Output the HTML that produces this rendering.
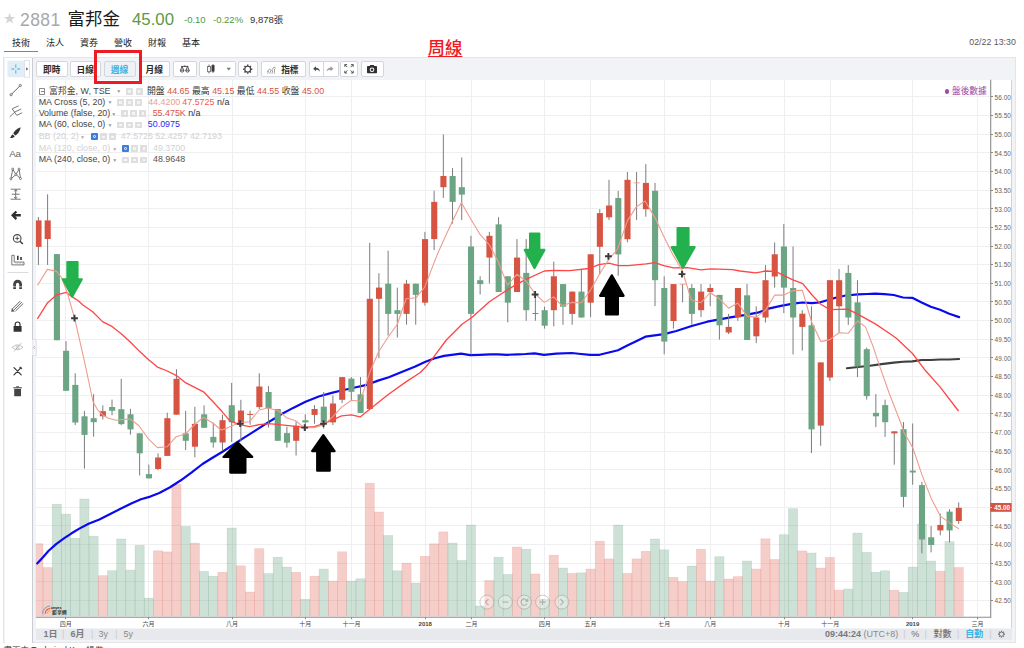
<!DOCTYPE html>
<html lang="zh-Hant"><head><meta charset="utf-8"><title>2881 富邦金</title>
<style>
html,body{margin:0;padding:0}
body{width:1024px;height:648px;position:relative;overflow:hidden;background:#fff;font-family:"Liberation Sans","Noto Sans CJK TC",sans-serif;color:#222}
.abs{position:absolute;white-space:nowrap}
.hd{position:absolute;top:0;left:0;height:36px;white-space:nowrap}
.tab{position:absolute;top:37px;font-size:9px;color:#222;line-height:12px}
.panel{position:absolute;left:3.2px;top:56.8px;width:1012.6px;height:586.4px;box-sizing:border-box;background:#f2f3f6;border:1px solid #e3e5e9}
.tbar{position:absolute;left:35.85px;top:79.7px;width:976.6px;height:548.7px;background:#fff;border-right:1px solid #cfd2d7;box-sizing:border-box}
.btn{position:absolute;top:61px;height:15.5px;border:1px solid #d3d6db;border-radius:2px;background:#fff;box-sizing:border-box;font-size:8.7px;line-height:17.2px;text-align:center;color:#2a2a2a;font-weight:bold}
.side{position:absolute;left:4.8px;top:57.8px;width:27.2px;height:585px;background:#fff;border-right:0.9px solid #c9ccd1}
.lg{position:absolute;left:0;height:11px;font-size:8.9px;line-height:11px;color:#333;white-space:nowrap}
.lg .nm{position:absolute;left:38.7px;top:0}
.lg .v{position:absolute;top:0}
.lg .ic{position:absolute;top:2.3px;width:7.1px;height:6.8px;background:#dfdfdf;box-sizing:border-box;border-radius:0.5px}
.lg .ic::after{content:"";position:absolute;left:2.2px;top:2.1px;width:2.7px;height:2.6px;border-radius:40%;border:0.7px solid #fafafa;box-sizing:border-box}
.lg .ib{position:absolute;top:2.2px;width:7.2px;height:7px;background:#3d7edb;border-radius:1px}
.lg .ib i{position:absolute;left:2.1px;top:2px;width:3px;height:3px;border-radius:50%;border:0.7px solid #fff;box-sizing:border-box}
.lg .dd{position:absolute;top:0.5px;color:#999;font-size:5px}
.bbar{position:absolute;left:35.85px;top:628.5px;width:976.6px;height:11.8px;background:#e7e9ed}
.bt{position:absolute;top:628px;font-size:9px;line-height:12px;color:#777;white-space:nowrap}
.sep{color:#c8cbd0;margin:0 3.5px;font-weight:normal}
</style></head><body>
<!-- header -->
<div class="abs" style="left:3.4px;top:12.2px;font-size:12px;line-height:14px;color:#d4d4d4">★</div>
<div class="abs" style="left:20px;top:7px;font-size:17.5px;line-height:26px;color:#a8a8a8;letter-spacing:0.45px">2881</div>
<div class="abs" style="left:67.6px;top:6.4px;font-size:17.4px;line-height:26px;color:#1a1a1a;font-weight:400">富邦金</div>
<div class="abs" style="left:132px;top:7px;font-size:16.8px;line-height:26px;color:#5b9a45">45.00</div>
<div class="abs" style="left:184px;top:14px;font-size:9.5px;line-height:12px;color:#4f9a3c">-0.10</div>
<div class="abs" style="left:213px;top:14px;font-size:9.5px;line-height:12px;color:#4f9a3c">-0.22%</div>
<div class="abs" style="left:250px;top:14px;font-size:9.5px;line-height:12px;color:#333">9,878張</div>
<!-- tabs -->
<div class="tab" style="left:12px">技術</div>
<div class="tab" style="left:46px">法人</div>
<div class="tab" style="left:80px">資券</div>
<div class="tab" style="left:114px">營收</div>
<div class="tab" style="left:148px">財報</div>
<div class="tab" style="left:182px">基本</div>
<div class="abs" style="left:4px;top:50.5px;width:34px;height:1px;background:#f0525f"></div>
<div class="abs" style="left:427.8px;top:37.6px;font-size:17.3px;line-height:20px;color:#ed1c24;font-weight:500;text-decoration:underline;text-decoration-thickness:1px;text-underline-offset:1.6px">周線</div>
<div class="abs" style="left:969.3px;top:36.4px;font-size:8.8px;line-height:12px;color:#5a5a5a">02/22 13:30</div>
<!-- panel -->
<div class="panel"></div>
<div class="tbar"></div>
<div class="side"></div>
<svg width="40" height="648" viewBox="0 0 40 648" style="position:absolute;left:0;top:0;pointer-events:none" font-family="Liberation Sans, sans-serif">
<rect x="7.4" y="60.6" width="17" height="16.6" fill="#e3edf6"/>
<rect x="24.6" y="60.6" width="5" height="16.6" fill="#fff" stroke="#d9dce1" stroke-width="0.8"/>
<path d="M26.2 67.3L28.2 68.9L26.2 70.5Z" fill="#555"/>
<path d="M11.3 69H14.5M17.1 69H20.3M15.8 64.5V67.7M15.8 70.3V73.5" stroke="#3bb3e4" stroke-width="1"/>
<path d="M11.399999999999999 94.39999999999999L20.0 85.8" stroke="#555" stroke-width="0.9"/><circle cx="11.1" cy="94.69999999999999" r="1.1" fill="#fff" stroke="#555" stroke-width="0.8"/><circle cx="20.299999999999997" cy="85.5" r="1.1" fill="#fff" stroke="#555" stroke-width="0.8"/>
<path d="M9.7 116.8L14.7 112.3M12.2 108.8L16.7 115.3M12.2 108.8L18.7 105.8M14.5 112.1L21.2 109.0M16.7 115.3L22.2 112.8" stroke="#555" stroke-width="0.8" fill="none"/>
<path d="M20.7 127.30000000000001C16.7 128.8 14.2 131.3 13.2 133.60000000000002L15.399999999999999 135.4C17.7 134.20000000000002 19.9 131.4 20.7 127.30000000000001Z" fill="#333"/><path d="M12.5 134.4C10.899999999999999 135.20000000000002 11.299999999999999 137.20000000000002 9.7 138.0C12.1 138.4 14.299999999999999 137.60000000000002 14.7 136.0Z" fill="#333"/>
<text x="9.2" y="157" font-size="9.8" fill="#666" letter-spacing="-0.3">Aa</text>
<path d="M10.899999999999999 178.9L12.7 169.1L15.899999999999999 174.5L19.099999999999998 169.1L20.5 178.5M10.899999999999999 178.9L15.899999999999999 174.5L20.5 178.5" stroke="#555" stroke-width="0.8" fill="none"/>
<circle cx="10.899999999999999" cy="178.9" r="1" fill="#fff" stroke="#555" stroke-width="0.7"/>
<circle cx="12.7" cy="169.1" r="1" fill="#fff" stroke="#555" stroke-width="0.7"/>
<circle cx="15.899999999999999" cy="174.5" r="1" fill="#fff" stroke="#555" stroke-width="0.7"/>
<circle cx="19.099999999999998" cy="169.1" r="1" fill="#fff" stroke="#555" stroke-width="0.7"/>
<circle cx="20.5" cy="178.5" r="1" fill="#fff" stroke="#555" stroke-width="0.7"/>
<path d="M10.7 189.2H20.7M10.7 199.2H20.7M11.7 194.2H19.7M15.7 190.0V198.39999999999998M14.1 191.39999999999998L15.7 189.79999999999998L17.3 191.39999999999998M14.1 197.0L15.7 198.6L17.3 197.0" stroke="#555" stroke-width="0.8" fill="none"/>
<path d="M11 215.3L15.6 210.70000000000002L17.2 212.3L15.4 214.10000000000002H20.8V216.5H15.4L17.2 218.3L15.6 219.9Z" fill="#2f2f2f"/>
<circle cx="17.2" cy="238.4" r="3.8" fill="none" stroke="#444" stroke-width="1.1"/><path d="M20.0 241.20000000000002L22.799999999999997 244.0" stroke="#444" stroke-width="1.6"/><path d="M15.2 238.4H19.2M17.2 236.4V240.4" stroke="#444" stroke-width="0.9"/>
<path d="M11.8 255.3V264.90000000000003H24.0V262.1H14.200000000000001V255.3Z" fill="none" stroke="#555" stroke-width="0.8"/><path d="M15.600000000000001 263.5H22.6" stroke="#999" stroke-width="0.6" stroke-dasharray="0.8 0.8"/><path d="M17.8 255.70000000000002V259.90000000000003M21.0 257.1V259.90000000000003" stroke="#333" stroke-width="1.6"/>
<path d="M7.5 272.5H28.5" stroke="#d9dce1" stroke-width="1"/>
<path d="M13.200000000000001 289.0V284.20000000000005A4.4 4.4 0 0 1 22.0 284.20000000000005V289.0H19.200000000000003V284.40000000000003A1.6 1.6 0 0 0 16.0 284.40000000000003V289.0Z" fill="#444"/><path d="M13.000000000000002 286.8H16.200000000000003M19.0 286.8H22.200000000000003" stroke="#fff" stroke-width="0.7"/>
<path d="M12.400000000000002 308.90000000000003L20.400000000000002 300.90000000000003M13.8 310.1L21.8 302.1M15.400000000000002 311.1L23.200000000000003 303.5" stroke="#555" stroke-width="0.9"/><path d="M11.8 308.3L11.200000000000001 311.7L14.8 311.5Z" fill="#555"/>
<rect x="13.600000000000001" y="326.0" width="8" height="5.8" rx="0.6" fill="#333"/><path d="M15.200000000000001 326.20000000000005V324.40000000000003A2.4 2.4 0 0 1 20.0 324.40000000000003V326.20000000000005" stroke="#333" stroke-width="1.2" fill="none"/>
<path d="M12.200000000000001 347.3Q17.6 342.3 23.0 347.3Q17.6 352.3 12.200000000000001 347.3Z" fill="none" stroke="#b5b5b5" stroke-width="0.8"/><circle cx="17.6" cy="347.3" r="1.5" fill="none" stroke="#b5b5b5" stroke-width="0.8"/><path d="M14.000000000000002 351.5L21.400000000000002 342.90000000000003" stroke="#b5b5b5" stroke-width="0.8"/>
<path d="M14.000000000000002 367.6L21.200000000000003 374.8M14.000000000000002 374.8L18.6 370.2" stroke="#333" stroke-width="1.2" stroke-linecap="round"/><path d="M18.8 369.8L21.400000000000002 367.2M19.6 366.8L21.8 369" stroke="#333" stroke-width="1.1"/>
<path d="M14.200000000000001 389.0H21.0V395.59999999999997Q21.0 396.2 20.400000000000002 396.2H14.8Q14.200000000000001 396.2 14.200000000000001 395.59999999999997Z" fill="#444"/><path d="M13.400000000000002 387.8H21.8" stroke="#444" stroke-width="1.1"/><path d="M16.200000000000003 386.8H19.0" stroke="#444" stroke-width="1"/>
<path d="M32.3 339.5H36.3V355.5H32.3" fill="#f4f5f7" stroke="#d9dce1" stroke-width="0.8"/><path d="M34.9 346L33.5 347.5L34.9 349" stroke="#999" stroke-width="0.7" fill="none"/>
</svg>
<!-- toolbar buttons -->
<div class="btn" style="left:36px;width:31.5px">即時</div>
<div class="btn" style="left:69.5px;width:31.5px">日線</div>
<div class="btn" style="left:103.5px;width:32px;background:#eef2f6;color:#3bb3e4">週線</div>
<div class="btn" style="left:138.5px;width:31.5px">月線</div>
<div class="btn" style="left:172.5px;width:24px"></div>
<div class="btn" style="left:199px;width:25px"></div>
<div class="btn" style="left:223px;width:13px;border-left:none;border-radius:0 2px 2px 0"></div>
<div class="btn" style="left:238px;width:20px"></div>
<div class="btn" style="left:260.5px;width:45.5px;text-align:right;padding-right:6.5px">指標</div>
<div class="btn" style="left:308.5px;width:15.5px;border-radius:2px 0 0 2px"></div>
<div class="btn" style="left:323px;width:15.5px;border-radius:0 2px 2px 0"></div>
<div class="btn" style="left:340px;width:18px"></div>
<div class="btn" style="left:360.5px;width:23.5px"></div>
<svg width="1024" height="648" viewBox="0 0 1024 648" style="position:absolute;left:0;top:0;pointer-events:none">
<g stroke="#3a3a3a" stroke-width="0.85" fill="none"><path d="M181.20000000000002 66.4H188.4M184.8 65.4V66.8"/><path d="M180.20000000000002 70.2A1.9 1.9 0 0 0 184.0 70.2Z"/><path d="M185.60000000000002 70.2A1.9 1.9 0 0 0 189.4 70.2Z"/><path d="M182.10000000000002 66.4L180.60000000000002 70.2M182.10000000000002 66.4L183.60000000000002 70.2M187.5 66.4L186.0 70.2M187.5 66.4L189.0 70.2"/></g>
<g stroke="#3a3a3a" stroke-width="0.7"><path d="M209 64.5V73.5M213 64V73"/><rect x="207.7" y="66.4" width="2.6" height="5.4" fill="#fff"/><rect x="211.9" y="65.6" width="2.2" height="5.6" fill="#3a3a3a"/></g>
<path d="M226.60000000000002 67.8H231.0L228.8 70.39999999999999Z" fill="#777"/>
<circle cx="247.7" cy="69.2" r="2.9" fill="none" stroke="#444" stroke-width="1.15"/><path d="M250.90 69.20L252.30 69.20 M249.96 71.46L250.95 72.45 M247.70 72.40L247.70 73.80 M245.44 71.46L244.45 72.45 M244.50 69.20L243.10 69.20 M245.44 66.94L244.45 65.95 M247.70 66.00L247.70 64.60 M249.96 66.94L250.95 65.95" stroke="#444" stroke-width="1.5"/>
<g stroke="#8a8a8a" stroke-width="0.8" fill="none"><path d="M267.0 72.0L269.5 69.0L271.5 70.5L274.0 67.0L276.0 68.5"/><path d="M267.0 73.1H276.0" stroke-dasharray="1 0.8"/><path d="M268.5 72.5V71.1M270.5 72.5V70.7M272.5 72.5V70.3M274.5 72.5V68.9"/></g>
<path transform="translate(316.5 69.2) scale(0.85) translate(-316.5 -69.2)" d="M312.5 68.60000000000001L315.9 65.60000000000001V67.4C318.7 67.4 320.3 69.2 320.5 72.2C319.5 70.4 318.1 69.8 315.9 69.8V71.60000000000001Z" fill="#4a4a4a"/>
<path transform="translate(330 69.2) scale(0.85) translate(-330 -69.2)" d="M334 68.60000000000001L330.6 65.60000000000001V67.4C327.8 67.4 326.2 69.2 326 72.2C327 70.4 328.4 69.8 330.6 69.8V71.60000000000001Z" fill="#9a9a9a"/>
<path d="M347.4 67.2L344.8 64.6M344.8 66.89999999999999V64.6H347.1 M350.6 67.2L353.2 64.6M353.2 66.89999999999999V64.6H350.9 M347.4 70.39999999999999L344.8 73.0M344.8 70.7V73.0H347.1 M350.6 70.39999999999999L353.2 73.0M353.2 70.7V73.0H350.9" stroke="#4a4a4a" stroke-width="0.9" fill="none"/>
<path d="M367 66.89999999999999Q367 66.1 367.8 66.1H369.6L370.4 64.89999999999999H373.6L374.4 66.1H376.2Q377 66.1 377 66.89999999999999V72.5Q377 73.3 376.2 73.3H367.8Q367 73.3 367 72.5Z" fill="#2f2f2f"/><circle cx="372" cy="69.7" r="2.3" fill="#fff"/><circle cx="372" cy="69.7" r="1.3" fill="#2f2f2f"/>
</svg>
<svg width="1024" height="648" viewBox="0 0 1024 648" style="position:absolute;left:0;top:0" font-family="Liberation Sans, Noto Sans CJK TC, sans-serif">
<defs><clipPath id="cp"><rect x="35.8" y="79.7" width="954.7" height="536.9"/></clipPath></defs>
<path d="M35.85 96.5H990.5 M35.85 115.5H990.5 M35.85 134.5H990.5 M35.85 152.5H990.5 M35.85 171.5H990.5 M35.85 190.5H990.5 M35.85 208.5H990.5 M35.85 227.5H990.5 M35.85 246.5H990.5 M35.85 264.5H990.5 M35.85 283.5H990.5 M35.85 301.5H990.5 M35.85 320.5H990.5 M35.85 339.5H990.5 M35.85 357.5H990.5 M35.85 376.5H990.5 M35.85 395.5H990.5 M35.85 413.5H990.5 M35.85 432.5H990.5 M35.85 451.5H990.5 M35.85 469.5H990.5 M35.85 488.5H990.5 M35.85 507.5H990.5 M35.85 525.5H990.5 M35.85 544.5H990.5 M35.85 563.5H990.5 M35.85 581.5H990.5 M35.85 600.5H990.5 M65.5 79.7V616.6 M148.5 79.7V616.6 M232.5 79.7V616.6 M305.5 79.7V616.6 M351.5 79.7V616.6 M425.5 79.7V616.6 M471.5 79.7V616.6 M544.5 79.7V616.6 M590.5 79.7V616.6 M664.5 79.7V616.6 M710.5 79.7V616.6 M784.5 79.7V616.6 M830.5 79.7V616.6 M912.5 79.7V616.6 M977.5 79.7V616.6" stroke="#efeff1" stroke-width="1" fill="none"/>
<g clip-path="url(#cp)">
<rect x="33.80" y="543.7" width="9.20" height="72.9" fill="rgba(226,110,100,0.34)" stroke="rgba(226,110,100,0.25)" stroke-width="0.6"/>
<rect x="43.00" y="567.5" width="9.20" height="49.1" fill="rgba(226,110,100,0.34)" stroke="rgba(226,110,100,0.25)" stroke-width="0.6"/>
<rect x="52.20" y="504.2" width="9.20" height="112.4" fill="rgba(107,165,131,0.33)" stroke="rgba(107,165,131,0.25)" stroke-width="0.6"/>
<rect x="61.41" y="514.1" width="9.20" height="102.5" fill="rgba(107,165,131,0.33)" stroke="rgba(107,165,131,0.25)" stroke-width="0.6"/>
<rect x="70.61" y="538.3" width="9.20" height="78.3" fill="rgba(107,165,131,0.33)" stroke="rgba(107,165,131,0.25)" stroke-width="0.6"/>
<rect x="79.81" y="499.0" width="9.20" height="117.6" fill="rgba(107,165,131,0.33)" stroke="rgba(107,165,131,0.25)" stroke-width="0.6"/>
<rect x="89.02" y="536.2" width="9.20" height="80.4" fill="rgba(107,165,131,0.33)" stroke="rgba(107,165,131,0.25)" stroke-width="0.6"/>
<rect x="98.22" y="575.7" width="9.20" height="40.9" fill="rgba(226,110,100,0.34)" stroke="rgba(226,110,100,0.25)" stroke-width="0.6"/>
<rect x="107.42" y="570.7" width="9.20" height="45.9" fill="rgba(107,165,131,0.33)" stroke="rgba(107,165,131,0.25)" stroke-width="0.6"/>
<rect x="116.63" y="539.0" width="9.20" height="77.6" fill="rgba(107,165,131,0.33)" stroke="rgba(107,165,131,0.25)" stroke-width="0.6"/>
<rect x="125.83" y="570.1" width="9.20" height="46.5" fill="rgba(107,165,131,0.33)" stroke="rgba(107,165,131,0.25)" stroke-width="0.6"/>
<rect x="135.03" y="545.4" width="9.20" height="71.2" fill="rgba(107,165,131,0.33)" stroke="rgba(107,165,131,0.25)" stroke-width="0.6"/>
<rect x="144.23" y="598.1" width="9.20" height="18.5" fill="rgba(107,165,131,0.33)" stroke="rgba(107,165,131,0.25)" stroke-width="0.6"/>
<rect x="153.44" y="550.8" width="9.20" height="65.8" fill="rgba(226,110,100,0.34)" stroke="rgba(226,110,100,0.25)" stroke-width="0.6"/>
<rect x="162.64" y="551.9" width="9.20" height="64.7" fill="rgba(226,110,100,0.34)" stroke="rgba(226,110,100,0.25)" stroke-width="0.6"/>
<rect x="171.84" y="484.3" width="9.20" height="132.3" fill="rgba(226,110,100,0.34)" stroke="rgba(226,110,100,0.25)" stroke-width="0.6"/>
<rect x="181.05" y="526.4" width="9.20" height="90.2" fill="rgba(107,165,131,0.33)" stroke="rgba(107,165,131,0.25)" stroke-width="0.6"/>
<rect x="190.25" y="543.1" width="9.20" height="73.5" fill="rgba(226,110,100,0.34)" stroke="rgba(226,110,100,0.25)" stroke-width="0.6"/>
<rect x="199.45" y="571.4" width="9.20" height="45.2" fill="rgba(107,165,131,0.33)" stroke="rgba(107,165,131,0.25)" stroke-width="0.6"/>
<rect x="208.66" y="576.2" width="9.20" height="40.4" fill="rgba(107,165,131,0.33)" stroke="rgba(107,165,131,0.25)" stroke-width="0.6"/>
<rect x="217.86" y="572.3" width="9.20" height="44.3" fill="rgba(226,110,100,0.34)" stroke="rgba(226,110,100,0.25)" stroke-width="0.6"/>
<rect x="227.06" y="528.0" width="9.20" height="88.6" fill="rgba(107,165,131,0.33)" stroke="rgba(107,165,131,0.25)" stroke-width="0.6"/>
<rect x="236.26" y="565.8" width="9.20" height="50.8" fill="rgba(226,110,100,0.34)" stroke="rgba(226,110,100,0.25)" stroke-width="0.6"/>
<rect x="245.47" y="592.0" width="9.20" height="24.6" fill="rgba(226,110,100,0.34)" stroke="rgba(226,110,100,0.25)" stroke-width="0.6"/>
<rect x="254.67" y="548.7" width="9.20" height="67.9" fill="rgba(226,110,100,0.34)" stroke="rgba(226,110,100,0.25)" stroke-width="0.6"/>
<rect x="263.87" y="573.6" width="9.20" height="43.0" fill="rgba(107,165,131,0.33)" stroke="rgba(107,165,131,0.25)" stroke-width="0.6"/>
<rect x="273.08" y="557.2" width="9.20" height="59.4" fill="rgba(107,165,131,0.33)" stroke="rgba(107,165,131,0.25)" stroke-width="0.6"/>
<rect x="282.28" y="567.1" width="9.20" height="49.5" fill="rgba(107,165,131,0.33)" stroke="rgba(107,165,131,0.25)" stroke-width="0.6"/>
<rect x="291.48" y="572.3" width="9.20" height="44.3" fill="rgba(226,110,100,0.34)" stroke="rgba(226,110,100,0.25)" stroke-width="0.6"/>
<rect x="300.69" y="599.3" width="9.20" height="17.3" fill="rgba(107,165,131,0.33)" stroke="rgba(107,165,131,0.25)" stroke-width="0.6"/>
<rect x="309.89" y="576.2" width="9.20" height="40.4" fill="rgba(226,110,100,0.34)" stroke="rgba(226,110,100,0.25)" stroke-width="0.6"/>
<rect x="319.09" y="569.0" width="9.20" height="47.6" fill="rgba(107,165,131,0.33)" stroke="rgba(107,165,131,0.25)" stroke-width="0.6"/>
<rect x="328.29" y="581.1" width="9.20" height="35.5" fill="rgba(226,110,100,0.34)" stroke="rgba(226,110,100,0.25)" stroke-width="0.6"/>
<rect x="337.50" y="551.8" width="9.20" height="64.8" fill="rgba(226,110,100,0.34)" stroke="rgba(226,110,100,0.25)" stroke-width="0.6"/>
<rect x="346.70" y="581.1" width="9.20" height="35.5" fill="rgba(107,165,131,0.33)" stroke="rgba(107,165,131,0.25)" stroke-width="0.6"/>
<rect x="355.90" y="578.8" width="9.20" height="37.8" fill="rgba(107,165,131,0.33)" stroke="rgba(107,165,131,0.25)" stroke-width="0.6"/>
<rect x="365.11" y="483.2" width="9.20" height="133.4" fill="rgba(226,110,100,0.34)" stroke="rgba(226,110,100,0.25)" stroke-width="0.6"/>
<rect x="374.31" y="512.0" width="9.20" height="104.6" fill="rgba(226,110,100,0.34)" stroke="rgba(226,110,100,0.25)" stroke-width="0.6"/>
<rect x="383.51" y="535.5" width="9.20" height="81.1" fill="rgba(107,165,131,0.33)" stroke="rgba(107,165,131,0.25)" stroke-width="0.6"/>
<rect x="392.72" y="570.8" width="9.20" height="45.8" fill="rgba(107,165,131,0.33)" stroke="rgba(107,165,131,0.25)" stroke-width="0.6"/>
<rect x="401.92" y="563.2" width="9.20" height="53.4" fill="rgba(226,110,100,0.34)" stroke="rgba(226,110,100,0.25)" stroke-width="0.6"/>
<rect x="411.12" y="583.1" width="9.20" height="33.5" fill="rgba(107,165,131,0.33)" stroke="rgba(107,165,131,0.25)" stroke-width="0.6"/>
<rect x="420.32" y="556.3" width="9.20" height="60.3" fill="rgba(226,110,100,0.34)" stroke="rgba(226,110,100,0.25)" stroke-width="0.6"/>
<rect x="429.53" y="543.8" width="9.20" height="72.8" fill="rgba(226,110,100,0.34)" stroke="rgba(226,110,100,0.25)" stroke-width="0.6"/>
<rect x="438.73" y="531.9" width="9.20" height="84.7" fill="rgba(226,110,100,0.34)" stroke="rgba(226,110,100,0.25)" stroke-width="0.6"/>
<rect x="447.93" y="543.1" width="9.20" height="73.5" fill="rgba(107,165,131,0.33)" stroke="rgba(107,165,131,0.25)" stroke-width="0.6"/>
<rect x="457.14" y="560.4" width="9.20" height="56.2" fill="rgba(107,165,131,0.33)" stroke="rgba(107,165,131,0.25)" stroke-width="0.6"/>
<rect x="466.34" y="525.0" width="9.20" height="91.6" fill="rgba(107,165,131,0.33)" stroke="rgba(107,165,131,0.25)" stroke-width="0.6"/>
<rect x="475.54" y="606.0" width="9.20" height="10.6" fill="rgba(107,165,131,0.33)" stroke="rgba(107,165,131,0.25)" stroke-width="0.6"/>
<rect x="484.75" y="580.5" width="9.20" height="36.1" fill="rgba(226,110,100,0.34)" stroke="rgba(226,110,100,0.25)" stroke-width="0.6"/>
<rect x="493.95" y="557.2" width="9.20" height="59.4" fill="rgba(107,165,131,0.33)" stroke="rgba(107,165,131,0.25)" stroke-width="0.6"/>
<rect x="503.15" y="574.4" width="9.20" height="42.2" fill="rgba(107,165,131,0.33)" stroke="rgba(107,165,131,0.25)" stroke-width="0.6"/>
<rect x="512.35" y="547.0" width="9.20" height="69.6" fill="rgba(226,110,100,0.34)" stroke="rgba(226,110,100,0.25)" stroke-width="0.6"/>
<rect x="521.56" y="549.2" width="9.20" height="67.4" fill="rgba(107,165,131,0.33)" stroke="rgba(107,165,131,0.25)" stroke-width="0.6"/>
<rect x="530.76" y="574.0" width="9.20" height="42.6" fill="rgba(226,110,100,0.34)" stroke="rgba(226,110,100,0.25)" stroke-width="0.6"/>
<rect x="539.96" y="599.3" width="9.20" height="17.3" fill="rgba(107,165,131,0.33)" stroke="rgba(107,165,131,0.25)" stroke-width="0.6"/>
<rect x="549.17" y="555.2" width="9.20" height="61.4" fill="rgba(226,110,100,0.34)" stroke="rgba(226,110,100,0.25)" stroke-width="0.6"/>
<rect x="558.37" y="568.0" width="9.20" height="48.6" fill="rgba(107,165,131,0.33)" stroke="rgba(107,165,131,0.25)" stroke-width="0.6"/>
<rect x="567.57" y="573.4" width="9.20" height="43.2" fill="rgba(226,110,100,0.34)" stroke="rgba(226,110,100,0.25)" stroke-width="0.6"/>
<rect x="576.78" y="572.9" width="9.20" height="43.7" fill="rgba(107,165,131,0.33)" stroke="rgba(107,165,131,0.25)" stroke-width="0.6"/>
<rect x="585.98" y="569.0" width="9.20" height="47.6" fill="rgba(226,110,100,0.34)" stroke="rgba(226,110,100,0.25)" stroke-width="0.6"/>
<rect x="595.18" y="541.2" width="9.20" height="75.4" fill="rgba(226,110,100,0.34)" stroke="rgba(226,110,100,0.25)" stroke-width="0.6"/>
<rect x="604.38" y="558.9" width="9.20" height="57.7" fill="rgba(226,110,100,0.34)" stroke="rgba(226,110,100,0.25)" stroke-width="0.6"/>
<rect x="613.59" y="525.0" width="9.20" height="91.6" fill="rgba(107,165,131,0.33)" stroke="rgba(107,165,131,0.25)" stroke-width="0.6"/>
<rect x="622.79" y="573.4" width="9.20" height="43.2" fill="rgba(226,110,100,0.34)" stroke="rgba(226,110,100,0.25)" stroke-width="0.6"/>
<rect x="631.99" y="558.9" width="9.20" height="57.7" fill="rgba(226,110,100,0.34)" stroke="rgba(226,110,100,0.25)" stroke-width="0.6"/>
<rect x="641.20" y="551.3" width="9.20" height="65.3" fill="rgba(226,110,100,0.34)" stroke="rgba(226,110,100,0.25)" stroke-width="0.6"/>
<rect x="650.40" y="539.0" width="9.20" height="77.6" fill="rgba(107,165,131,0.33)" stroke="rgba(107,165,131,0.25)" stroke-width="0.6"/>
<rect x="659.60" y="549.8" width="9.20" height="66.8" fill="rgba(107,165,131,0.33)" stroke="rgba(107,165,131,0.25)" stroke-width="0.6"/>
<rect x="668.81" y="577.3" width="9.20" height="39.3" fill="rgba(226,110,100,0.34)" stroke="rgba(226,110,100,0.25)" stroke-width="0.6"/>
<rect x="678.01" y="581.6" width="9.20" height="35.0" fill="rgba(226,110,100,0.34)" stroke="rgba(226,110,100,0.25)" stroke-width="0.6"/>
<rect x="687.21" y="566.0" width="9.20" height="50.6" fill="rgba(107,165,131,0.33)" stroke="rgba(107,165,131,0.25)" stroke-width="0.6"/>
<rect x="696.41" y="549.2" width="9.20" height="67.4" fill="rgba(226,110,100,0.34)" stroke="rgba(226,110,100,0.25)" stroke-width="0.6"/>
<rect x="705.62" y="581.1" width="9.20" height="35.5" fill="rgba(226,110,100,0.34)" stroke="rgba(226,110,100,0.25)" stroke-width="0.6"/>
<rect x="714.82" y="556.7" width="9.20" height="59.9" fill="rgba(107,165,131,0.33)" stroke="rgba(107,165,131,0.25)" stroke-width="0.6"/>
<rect x="724.02" y="579.0" width="9.20" height="37.6" fill="rgba(226,110,100,0.34)" stroke="rgba(226,110,100,0.25)" stroke-width="0.6"/>
<rect x="733.23" y="576.6" width="9.20" height="40.0" fill="rgba(226,110,100,0.34)" stroke="rgba(226,110,100,0.25)" stroke-width="0.6"/>
<rect x="742.43" y="561.0" width="9.20" height="55.6" fill="rgba(107,165,131,0.33)" stroke="rgba(107,165,131,0.25)" stroke-width="0.6"/>
<rect x="751.63" y="569.0" width="9.20" height="47.6" fill="rgba(226,110,100,0.34)" stroke="rgba(226,110,100,0.25)" stroke-width="0.6"/>
<rect x="760.84" y="538.8" width="9.20" height="77.8" fill="rgba(226,110,100,0.34)" stroke="rgba(226,110,100,0.25)" stroke-width="0.6"/>
<rect x="770.04" y="559.5" width="9.20" height="57.1" fill="rgba(226,110,100,0.34)" stroke="rgba(226,110,100,0.25)" stroke-width="0.6"/>
<rect x="779.24" y="534.7" width="9.20" height="81.9" fill="rgba(107,165,131,0.33)" stroke="rgba(107,165,131,0.25)" stroke-width="0.6"/>
<rect x="788.44" y="508.7" width="9.20" height="107.9" fill="rgba(107,165,131,0.33)" stroke="rgba(107,165,131,0.25)" stroke-width="0.6"/>
<rect x="797.65" y="550.9" width="9.20" height="65.7" fill="rgba(226,110,100,0.34)" stroke="rgba(226,110,100,0.25)" stroke-width="0.6"/>
<rect x="806.85" y="553.0" width="9.20" height="63.6" fill="rgba(107,165,131,0.33)" stroke="rgba(107,165,131,0.25)" stroke-width="0.6"/>
<rect x="816.05" y="568.0" width="9.20" height="48.6" fill="rgba(226,110,100,0.34)" stroke="rgba(226,110,100,0.25)" stroke-width="0.6"/>
<rect x="825.26" y="557.4" width="9.20" height="59.2" fill="rgba(226,110,100,0.34)" stroke="rgba(226,110,100,0.25)" stroke-width="0.6"/>
<rect x="834.46" y="590.2" width="9.20" height="26.4" fill="rgba(226,110,100,0.34)" stroke="rgba(226,110,100,0.25)" stroke-width="0.6"/>
<rect x="843.66" y="589.1" width="9.20" height="27.5" fill="rgba(107,165,131,0.33)" stroke="rgba(107,165,131,0.25)" stroke-width="0.6"/>
<rect x="852.87" y="533.0" width="9.20" height="83.6" fill="rgba(107,165,131,0.33)" stroke="rgba(107,165,131,0.25)" stroke-width="0.6"/>
<rect x="862.07" y="552.4" width="9.20" height="64.2" fill="rgba(107,165,131,0.33)" stroke="rgba(107,165,131,0.25)" stroke-width="0.6"/>
<rect x="871.27" y="572.3" width="9.20" height="44.3" fill="rgba(107,165,131,0.33)" stroke="rgba(107,165,131,0.25)" stroke-width="0.6"/>
<rect x="880.47" y="570.8" width="9.20" height="45.8" fill="rgba(107,165,131,0.33)" stroke="rgba(107,165,131,0.25)" stroke-width="0.6"/>
<rect x="889.68" y="590.2" width="9.20" height="26.4" fill="rgba(226,110,100,0.34)" stroke="rgba(226,110,100,0.25)" stroke-width="0.6"/>
<rect x="898.88" y="592.4" width="9.20" height="24.2" fill="rgba(107,165,131,0.33)" stroke="rgba(107,165,131,0.25)" stroke-width="0.6"/>
<rect x="908.08" y="567.1" width="9.20" height="49.5" fill="rgba(107,165,131,0.33)" stroke="rgba(107,165,131,0.25)" stroke-width="0.6"/>
<rect x="917.29" y="523.9" width="9.20" height="92.7" fill="rgba(107,165,131,0.33)" stroke="rgba(107,165,131,0.25)" stroke-width="0.6"/>
<rect x="926.49" y="561.0" width="9.20" height="55.6" fill="rgba(107,165,131,0.33)" stroke="rgba(107,165,131,0.25)" stroke-width="0.6"/>
<rect x="935.69" y="571.2" width="9.20" height="45.4" fill="rgba(226,110,100,0.34)" stroke="rgba(226,110,100,0.25)" stroke-width="0.6"/>
<rect x="944.90" y="541.6" width="9.20" height="75.0" fill="rgba(107,165,131,0.33)" stroke="rgba(107,165,131,0.25)" stroke-width="0.6"/>
<rect x="954.10" y="567.5" width="9.20" height="49.1" fill="rgba(226,110,100,0.34)" stroke="rgba(226,110,100,0.25)" stroke-width="0.6"/>
<polyline points="846.9,368.2 858.0,367.0 869.9,365.7 881.4,364.1 893.8,362.6 903.0,361.8 912.3,361.4 921.6,360.0 930.8,360.0 940.1,359.5 949.3,359.5 959.1,359.0" fill="none" stroke="#3e3e3e" stroke-width="2.1" stroke-linejoin="round" stroke-linecap="round"/>
<polyline points="37.2,563.4 43.0,557.2 48.4,551.0 56.1,544.1 63.9,538.4 71.6,533.3 79.3,528.6 88.6,523.7 99.4,519.4 110.2,514.0 121.0,508.6 131.8,503.2 141.0,499.3 150.3,496.6 159.3,493.0 170.1,487.2 180.9,480.3 191.7,472.4 202.5,464.0 211.7,458.3 222.5,451.7 233.3,444.8 242.6,438.6 254.9,430.9 265.7,423.9 275.0,418.3 280.8,414.5 293.1,407.9 305.5,401.7 319.4,396.3 331.7,392.9 342.5,390.2 354.9,387.5 365.7,385.2 378.0,380.6 388.8,377.3 402.3,371.8 414.7,366.7 425.5,361.7 434.8,358.3 444.0,355.9 451.7,354.8 461.0,353.7 470.2,355.2 479.5,354.8 490.3,354.3 498.0,354.3 507.3,354.8 517.9,354.3 525.4,354.0 534.7,353.3 544.0,354.8 556.3,353.6 571.7,353.0 581.0,354.0 590.2,354.8 599.5,354.8 608.8,352.5 618.0,350.2 627.3,345.6 637.7,340.5 645.4,336.7 654.7,335.3 664.0,334.1 676.3,331.0 691.7,326.0 707.2,321.7 719.5,319.4 731.9,317.1 744.2,315.2 757.7,312.7 768.5,308.6 780.9,305.9 793.2,303.7 802.5,302.5 811.7,303.2 819.4,302.5 827.2,300.2 836.4,297.5 845.7,295.5 858.0,294.4 867.3,294.0 875.3,293.6 884.5,294.2 893.8,295.0 903.0,297.5 912.3,297.8 921.6,302.4 930.8,306.7 940.1,309.8 949.3,313.7 959.1,317.1" fill="none" stroke="#0a0af0" stroke-width="2.2" stroke-linejoin="round" stroke-linecap="round"/>
<path d="M38.40 217.0V264.9" stroke="#7c7c7f" stroke-width="1"/>
<rect x="35.45" y="220.4" width="6.1" height="26.5" fill="#d75442"/>
<path d="M47.60 194.3V264.9" stroke="#7c7c7f" stroke-width="1"/>
<rect x="44.65" y="220.4" width="6.1" height="18.6" fill="#d75442"/>
<path d="M56.81 254.1V340.2" stroke="#7c7c7f" stroke-width="1"/>
<rect x="53.86" y="254.1" width="6.1" height="86.1" fill="#6ba583"/>
<path d="M66.01 341.2V390.8" stroke="#7c7c7f" stroke-width="1"/>
<rect x="63.06" y="350.8" width="6.1" height="40.0" fill="#6ba583"/>
<path d="M75.21 373.3V425.1" stroke="#7c7c7f" stroke-width="1"/>
<rect x="72.26" y="384.9" width="6.1" height="37.6" fill="#6ba583"/>
<path d="M84.41 410.8V468.6" stroke="#7c7c7f" stroke-width="1"/>
<rect x="81.46" y="416.3" width="6.1" height="18.6" fill="#6ba583"/>
<path d="M93.62 394.1V436.7" stroke="#7c7c7f" stroke-width="1"/>
<rect x="90.67" y="418.2" width="6.1" height="4.0" fill="#6ba583"/>
<path d="M102.82 405.3V419.6" stroke="#7c7c7f" stroke-width="1"/>
<rect x="99.87" y="411.2" width="6.1" height="5.1" fill="#d75442"/>
<path d="M112.02 399.6V415.3" stroke="#7c7c7f" stroke-width="1"/>
<rect x="109.07" y="407.0" width="6.1" height="3.8" fill="#6ba583"/>
<path d="M121.23 378.8V425.1" stroke="#7c7c7f" stroke-width="1"/>
<rect x="118.28" y="409.2" width="6.1" height="14.9" fill="#6ba583"/>
<path d="M130.43 408.8V434.7" stroke="#7c7c7f" stroke-width="1"/>
<rect x="127.48" y="414.3" width="6.1" height="15.1" fill="#6ba583"/>
<path d="M139.63 433.3V475.5" stroke="#7c7c7f" stroke-width="1"/>
<rect x="136.68" y="433.3" width="6.1" height="20.0" fill="#6ba583"/>
<path d="M148.84 464.7V478.4" stroke="#7c7c7f" stroke-width="1"/>
<rect x="145.89" y="474.1" width="6.1" height="4.3" fill="#6ba583"/>
<path d="M158.04 453.3V470.2" stroke="#7c7c7f" stroke-width="1"/>
<rect x="155.09" y="457.5" width="6.1" height="11.5" fill="#d75442"/>
<path d="M167.24 412.7V455.9" stroke="#7c7c7f" stroke-width="1"/>
<rect x="164.29" y="418.2" width="6.1" height="37.7" fill="#d75442"/>
<path d="M176.44 369.2V414.7" stroke="#7c7c7f" stroke-width="1"/>
<rect x="173.50" y="378.8" width="6.1" height="35.9" fill="#d75442"/>
<path d="M185.65 410.8V450.0" stroke="#7c7c7f" stroke-width="1"/>
<rect x="182.70" y="433.3" width="6.1" height="7.5" fill="#6ba583"/>
<path d="M194.85 406.9V457.3" stroke="#7c7c7f" stroke-width="1"/>
<rect x="191.90" y="423.9" width="6.1" height="22.8" fill="#d75442"/>
<path d="M204.05 405.3V427.8" stroke="#7c7c7f" stroke-width="1"/>
<rect x="201.10" y="414.3" width="6.1" height="13.5" fill="#6ba583"/>
<path d="M213.26 422.5V447.6" stroke="#7c7c7f" stroke-width="1"/>
<rect x="210.31" y="436.9" width="6.1" height="5.6" fill="#6ba583"/>
<path d="M222.46 414.7V451.0" stroke="#7c7c7f" stroke-width="1"/>
<rect x="219.51" y="420.2" width="6.1" height="22.3" fill="#d75442"/>
<path d="M231.66 382.9V442.0" stroke="#7c7c7f" stroke-width="1"/>
<rect x="228.71" y="405.2" width="6.1" height="17.1" fill="#6ba583"/>
<path d="M240.87 399.8V441.4" stroke="#7c7c7f" stroke-width="1"/>
<rect x="237.92" y="410.6" width="6.1" height="13.1" fill="#d75442"/>
<path d="M250.07 410.6V424.7" stroke="#7c7c7f" stroke-width="1"/>
<rect x="247.12" y="414.0" width="6.1" height="0.9" fill="#d75442"/>
<path d="M259.27 373.3V409.0" stroke="#7c7c7f" stroke-width="1"/>
<rect x="256.32" y="386.5" width="6.1" height="20.6" fill="#d75442"/>
<path d="M268.47 386.1V427.6" stroke="#7c7c7f" stroke-width="1"/>
<rect x="265.52" y="392.0" width="6.1" height="16.4" fill="#6ba583"/>
<path d="M277.68 409.0V440.8" stroke="#7c7c7f" stroke-width="1"/>
<rect x="274.73" y="409.0" width="6.1" height="31.8" fill="#6ba583"/>
<path d="M286.88 426.7V447.6" stroke="#7c7c7f" stroke-width="1"/>
<rect x="283.93" y="433.1" width="6.1" height="9.6" fill="#6ba583"/>
<path d="M296.08 421.2V455.5" stroke="#7c7c7f" stroke-width="1"/>
<rect x="293.13" y="425.7" width="6.1" height="15.1" fill="#d75442"/>
<path d="M305.29 414.3V430.6" stroke="#7c7c7f" stroke-width="1"/>
<rect x="302.34" y="420.2" width="6.1" height="2.2" fill="#6ba583"/>
<path d="M314.49 405.1V423.7" stroke="#7c7c7f" stroke-width="1"/>
<rect x="311.54" y="409.0" width="6.1" height="5.9" fill="#d75442"/>
<path d="M323.69 392.0V428.6" stroke="#7c7c7f" stroke-width="1"/>
<rect x="320.74" y="406.7" width="6.1" height="15.7" fill="#6ba583"/>
<path d="M332.90 395.3V425.1" stroke="#7c7c7f" stroke-width="1"/>
<rect x="329.95" y="403.5" width="6.1" height="18.9" fill="#d75442"/>
<path d="M342.10 377.1V403.1" stroke="#7c7c7f" stroke-width="1"/>
<rect x="339.15" y="377.1" width="6.1" height="22.7" fill="#d75442"/>
<path d="M351.30 377.1V400.2" stroke="#7c7c7f" stroke-width="1"/>
<rect x="348.35" y="378.6" width="6.1" height="13.2" fill="#6ba583"/>
<path d="M360.50 377.1V412.9" stroke="#7c7c7f" stroke-width="1"/>
<rect x="357.55" y="394.3" width="6.1" height="18.6" fill="#6ba583"/>
<path d="M369.71 242.8V409.0" stroke="#7c7c7f" stroke-width="1"/>
<rect x="366.76" y="298.8" width="6.1" height="110.2" fill="#d75442"/>
<path d="M378.91 273.3V358.2" stroke="#7c7c7f" stroke-width="1"/>
<rect x="375.96" y="287.6" width="6.1" height="11.2" fill="#d75442"/>
<path d="M388.11 250.7V335.5" stroke="#7c7c7f" stroke-width="1"/>
<rect x="385.16" y="283.7" width="6.1" height="30.2" fill="#6ba583"/>
<path d="M397.32 287.6V337.5" stroke="#7c7c7f" stroke-width="1"/>
<rect x="394.37" y="310.2" width="6.1" height="3.7" fill="#6ba583"/>
<path d="M406.52 279.8V324.7" stroke="#7c7c7f" stroke-width="1"/>
<rect x="403.57" y="283.7" width="6.1" height="30.2" fill="#d75442"/>
<path d="M415.72 283.7V324.7" stroke="#7c7c7f" stroke-width="1"/>
<rect x="412.77" y="283.7" width="6.1" height="11.2" fill="#6ba583"/>
<path d="M424.93 231.9V305.7" stroke="#7c7c7f" stroke-width="1"/>
<rect x="421.98" y="239.1" width="6.1" height="63.6" fill="#d75442"/>
<path d="M434.13 190.7V250.1" stroke="#7c7c7f" stroke-width="1"/>
<rect x="431.18" y="201.9" width="6.1" height="37.2" fill="#d75442"/>
<path d="M443.33 134.4V197.9" stroke="#7c7c7f" stroke-width="1"/>
<rect x="440.38" y="176.0" width="6.1" height="11.2" fill="#d75442"/>
<path d="M452.53 168.1V223.6" stroke="#7c7c7f" stroke-width="1"/>
<rect x="449.58" y="176.0" width="6.1" height="25.9" fill="#6ba583"/>
<path d="M461.74 157.4V220.1" stroke="#7c7c7f" stroke-width="1"/>
<rect x="458.79" y="187.2" width="6.1" height="7.4" fill="#6ba583"/>
<path d="M470.94 235.8V354.7" stroke="#7c7c7f" stroke-width="1"/>
<rect x="467.99" y="246.5" width="6.1" height="67.4" fill="#6ba583"/>
<path d="M480.14 276.3V294.5" stroke="#7c7c7f" stroke-width="1"/>
<rect x="477.19" y="280.2" width="6.1" height="3.9" fill="#6ba583"/>
<path d="M489.35 231.9V283.5" stroke="#7c7c7f" stroke-width="1"/>
<rect x="486.40" y="235.8" width="6.1" height="21.8" fill="#d75442"/>
<path d="M498.55 217.2V292.0" stroke="#7c7c7f" stroke-width="1"/>
<rect x="495.60" y="224.4" width="6.1" height="67.6" fill="#6ba583"/>
<path d="M507.75 276.3V322.4" stroke="#7c7c7f" stroke-width="1"/>
<rect x="504.80" y="276.3" width="6.1" height="26.4" fill="#6ba583"/>
<path d="M516.96 239.1V292.0" stroke="#7c7c7f" stroke-width="1"/>
<rect x="514.01" y="257.6" width="6.1" height="34.4" fill="#d75442"/>
<path d="M526.16 239.1V320.8" stroke="#7c7c7f" stroke-width="1"/>
<rect x="523.21" y="272.9" width="6.1" height="37.3" fill="#6ba583"/>
<path d="M535.36 292.0V320.8" stroke="#7c7c7f" stroke-width="1"/>
<rect x="532.41" y="313.0" width="6.1" height="0.9" fill="#d75442"/>
<path d="M544.56 306.7V328.6" stroke="#7c7c7f" stroke-width="1"/>
<rect x="541.61" y="310.2" width="6.1" height="15.5" fill="#6ba583"/>
<path d="M553.77 261.6V326.3" stroke="#7c7c7f" stroke-width="1"/>
<rect x="550.82" y="276.3" width="6.1" height="33.9" fill="#d75442"/>
<path d="M562.97 284.1V324.7" stroke="#7c7c7f" stroke-width="1"/>
<rect x="560.02" y="284.1" width="6.1" height="22.6" fill="#6ba583"/>
<path d="M572.17 291.6V324.7" stroke="#7c7c7f" stroke-width="1"/>
<rect x="569.22" y="291.6" width="6.1" height="22.3" fill="#d75442"/>
<path d="M581.38 269.0V317.5" stroke="#7c7c7f" stroke-width="1"/>
<rect x="578.43" y="291.6" width="6.1" height="25.9" fill="#6ba583"/>
<path d="M590.58 254.3V317.1" stroke="#7c7c7f" stroke-width="1"/>
<rect x="587.63" y="254.3" width="6.1" height="48.4" fill="#d75442"/>
<path d="M599.78 209.2V274.3" stroke="#7c7c7f" stroke-width="1"/>
<rect x="596.83" y="213.1" width="6.1" height="33.7" fill="#d75442"/>
<path d="M608.99 179.8V220.0" stroke="#7c7c7f" stroke-width="1"/>
<rect x="606.04" y="205.5" width="6.1" height="11.8" fill="#d75442"/>
<path d="M618.19 190.8V275.7" stroke="#7c7c7f" stroke-width="1"/>
<rect x="615.24" y="198.0" width="6.1" height="56.4" fill="#6ba583"/>
<path d="M627.39 172.0V242.2" stroke="#7c7c7f" stroke-width="1"/>
<rect x="624.44" y="179.8" width="6.1" height="59.4" fill="#d75442"/>
<path d="M636.59 172.0V220.0" stroke="#7c7c7f" stroke-width="1"/>
<rect x="633.64" y="182.4" width="6.1" height="0.9" fill="#ea9a8d"/>
<path d="M645.80 164.1V216.7" stroke="#7c7c7f" stroke-width="1"/>
<rect x="642.85" y="182.9" width="6.1" height="26.3" fill="#d75442"/>
<path d="M655.00 182.9V306.1" stroke="#7c7c7f" stroke-width="1"/>
<rect x="652.05" y="190.8" width="6.1" height="89.4" fill="#6ba583"/>
<path d="M664.20 276.3V354.3" stroke="#7c7c7f" stroke-width="1"/>
<rect x="661.25" y="288.0" width="6.1" height="53.6" fill="#6ba583"/>
<path d="M673.41 284.1V328.6" stroke="#7c7c7f" stroke-width="1"/>
<rect x="670.46" y="284.1" width="6.1" height="36.9" fill="#d75442"/>
<path d="M682.61 284.1V302.4" stroke="#7c7c7f" stroke-width="1"/>
<rect x="679.66" y="283.7" width="6.1" height="0.9" fill="#ea9a8d"/>
<path d="M691.81 284.1V324.7" stroke="#7c7c7f" stroke-width="1"/>
<rect x="688.86" y="288.0" width="6.1" height="25.9" fill="#6ba583"/>
<path d="M701.02 284.1V317.1" stroke="#7c7c7f" stroke-width="1"/>
<rect x="698.07" y="291.6" width="6.1" height="18.6" fill="#d75442"/>
<path d="M710.22 284.1V306.1" stroke="#7c7c7f" stroke-width="1"/>
<rect x="707.27" y="288.0" width="6.1" height="4.0" fill="#d75442"/>
<path d="M719.42 294.9V339.6" stroke="#7c7c7f" stroke-width="1"/>
<rect x="716.47" y="294.9" width="6.1" height="30.4" fill="#6ba583"/>
<path d="M728.62 313.9V334.1" stroke="#7c7c7f" stroke-width="1"/>
<rect x="725.67" y="326.9" width="6.1" height="5.6" fill="#d75442"/>
<path d="M737.83 288.0V320.8" stroke="#7c7c7f" stroke-width="1"/>
<rect x="734.88" y="288.0" width="6.1" height="29.5" fill="#d75442"/>
<path d="M747.03 283.9V340.0" stroke="#7c7c7f" stroke-width="1"/>
<rect x="744.08" y="295.3" width="6.1" height="44.7" fill="#6ba583"/>
<path d="M756.23 306.3V343.1" stroke="#7c7c7f" stroke-width="1"/>
<rect x="753.28" y="317.5" width="6.1" height="18.8" fill="#d75442"/>
<path d="M765.44 265.1V322.5" stroke="#7c7c7f" stroke-width="1"/>
<rect x="762.49" y="280.2" width="6.1" height="37.3" fill="#d75442"/>
<path d="M774.64 242.5V287.6" stroke="#7c7c7f" stroke-width="1"/>
<rect x="771.69" y="254.3" width="6.1" height="22.2" fill="#d75442"/>
<path d="M783.84 223.9V313.1" stroke="#7c7c7f" stroke-width="1"/>
<rect x="780.89" y="246.5" width="6.1" height="41.1" fill="#6ba583"/>
<path d="M793.05 246.5V354.5" stroke="#7c7c7f" stroke-width="1"/>
<rect x="790.10" y="288.0" width="6.1" height="29.5" fill="#6ba583"/>
<path d="M802.25 310.2V350.6" stroke="#7c7c7f" stroke-width="1"/>
<rect x="799.30" y="313.7" width="6.1" height="13.2" fill="#d75442"/>
<path d="M811.45 306.3V453.0" stroke="#7c7c7f" stroke-width="1"/>
<rect x="808.50" y="325.3" width="6.1" height="104.1" fill="#6ba583"/>
<path d="M820.65 362.4V445.8" stroke="#7c7c7f" stroke-width="1"/>
<rect x="817.70" y="362.4" width="6.1" height="63.2" fill="#d75442"/>
<path d="M829.86 280.2V381.0" stroke="#7c7c7f" stroke-width="1"/>
<rect x="826.91" y="280.2" width="6.1" height="97.3" fill="#d75442"/>
<path d="M839.06 269.0V332.4" stroke="#7c7c7f" stroke-width="1"/>
<rect x="836.11" y="280.2" width="6.1" height="26.1" fill="#d75442"/>
<path d="M848.26 265.1V324.9" stroke="#7c7c7f" stroke-width="1"/>
<rect x="845.31" y="272.9" width="6.1" height="44.6" fill="#6ba583"/>
<path d="M857.47 280.2V377.1" stroke="#7c7c7f" stroke-width="1"/>
<rect x="854.52" y="302.4" width="6.1" height="63.9" fill="#6ba583"/>
<path d="M866.67 347.6V399.6" stroke="#7c7c7f" stroke-width="1"/>
<rect x="863.72" y="349.2" width="6.1" height="46.9" fill="#6ba583"/>
<path d="M875.87 394.1V427.1" stroke="#7c7c7f" stroke-width="1"/>
<rect x="872.92" y="412.9" width="6.1" height="3.4" fill="#6ba583"/>
<path d="M885.08 399.6V436.9" stroke="#7c7c7f" stroke-width="1"/>
<rect x="882.13" y="405.1" width="6.1" height="17.1" fill="#6ba583"/>
<path d="M894.28 431.5V464.7" stroke="#7c7c7f" stroke-width="1"/>
<rect x="891.33" y="431.3" width="6.1" height="2.1" fill="#d75442"/>
<path d="M903.48 422.0V507.3" stroke="#7c7c7f" stroke-width="1"/>
<rect x="900.53" y="429.2" width="6.1" height="67.7" fill="#6ba583"/>
<path d="M912.68 423.5V484.7" stroke="#7c7c7f" stroke-width="1"/>
<rect x="909.73" y="470.6" width="6.1" height="1.9" fill="#6ba583"/>
<path d="M921.89 481.8V553.4" stroke="#7c7c7f" stroke-width="1"/>
<rect x="918.94" y="485.1" width="6.1" height="54.4" fill="#6ba583"/>
<path d="M931.09 526.0V552.4" stroke="#7c7c7f" stroke-width="1"/>
<rect x="928.14" y="537.3" width="6.1" height="7.7" fill="#6ba583"/>
<path d="M940.29 513.7V535.3" stroke="#7c7c7f" stroke-width="1"/>
<rect x="937.34" y="524.9" width="6.1" height="5.5" fill="#d75442"/>
<path d="M949.50 509.2V542.4" stroke="#7c7c7f" stroke-width="1"/>
<rect x="946.55" y="511.6" width="6.1" height="18.8" fill="#6ba583"/>
<path d="M958.70 502.4V523.9" stroke="#7c7c7f" stroke-width="1"/>
<rect x="955.75" y="507.8" width="6.1" height="13.2" fill="#d75442"/>
<polyline points="37.4,318.8 47.6,302.7 56.5,294.9 66.3,292.4 72.2,296.9 78.0,300.5 82.9,305.0 92.7,311.8 102.5,321.6 111.4,326.1 121.2,333.7 130.0,341.8 139.8,351.6 148.6,359.8 157.5,367.1 167.3,371.0 177.0,375.9 185.9,382.9 194.7,387.3 203.5,391.8 213.3,402.0 222.2,411.8 229.8,420.8 239.6,424.7 249.4,426.7 259.2,424.7 269.0,423.7 278.8,424.7 288.6,425.7 304.3,427.3 314.1,426.7 323.9,423.7 332.7,419.8 341.6,415.9 351.4,414.9 360.2,416.9 370.0,409.0 388.6,394.3 406.3,381.6 420.0,372.7 425.7,367.0 432.5,358.6 446.3,340.0 462.0,324.3 471.8,317.5 489.4,301.8 507.1,290.0 516.9,284.1 526.7,279.2 544.3,271.0 554.1,270.4 569.6,270.6 589.2,268.5 599.0,264.6 608.8,263.2 618.6,265.6 628.4,265.7 646.1,263.8 654.9,262.6 663.7,265.7 673.5,267.8 687.3,267.7 701.0,269.8 710.8,268.8 732.4,269.7 740.0,271.0 755.7,272.9 765.5,271.0 775.3,271.4 792.9,279.8 802.7,283.7 811.6,294.5 820.8,304.3 829.8,309.6 847.8,309.2 857.6,314.1 875.3,323.9 892.9,335.7 896.9,338.8 912.5,353.5 924.3,369.2 940.0,386.9 958.5,411.0" fill="none" stroke="#ff4545" stroke-width="1.3" stroke-linejoin="round"/>
<polyline points="37.5,285.5 47.3,269.4 56.5,271.4 61.4,277.3 67.3,292.9 74.7,318.6 83.9,358.8 93.1,402.0 97.6,409.8 102.5,414.7 108.4,418.2 116.3,420.2 121.2,419.6 130.0,419.0 138.8,425.5 148.6,439.2 157.5,447.6 167.3,446.7 176.1,436.7 185.9,433.7 194.7,424.5 203.5,417.3 213.3,423.5 221.2,430.0 225.9,428.6 231.7,426.0 239.6,422.7 249.4,421.8 259.2,410.0 268.0,408.0 278.8,411.0 286.7,417.8 295.5,420.8 304.3,427.6 314.1,427.6 323.9,424.7 332.7,416.9 341.6,407.1 351.4,400.2 360.2,401.2 370.0,371.8 378.6,351.8 387.5,338.0 397.3,324.3 406.1,298.8 415.9,297.8 424.7,287.1 434.5,261.6 438.4,252.0 444.3,238.7 452.5,221.1 461.4,202.8 470.8,219.1 479.6,233.8 489.4,245.0 498.2,261.6 507.5,285.1 516.9,274.3 526.3,281.2 535.1,293.9 544.3,302.4 553.7,296.9 561.8,305.7 571.6,302.4 581.4,302.7 590.6,290.0 600.0,273.3 608.4,260.0 617.6,249.0 627.5,220.6 636.3,206.9 645.1,201.0 654.9,217.6 663.7,236.3 673.5,255.9 682.4,270.5 691.2,299.8 701.0,302.7 710.2,292.5 719.4,298.8 728.6,308.2 737.8,303.1 747.1,316.1 756.3,317.1 765.5,310.2 774.7,295.1 783.9,295.1 793.1,290.6 802.3,290.2 811.6,322.0 820.8,341.6 829.8,339.6 839.0,332.7 848.2,333.3 857.5,321.0 865.5,326.9 873.3,347.0 877.3,359.4 889.0,392.7 902.7,428.0 903.5,431.8 912.7,447.5 922.0,474.9 931.2,498.4 940.4,516.1 949.6,522.9 958.8,528.8" fill="none" stroke="#ee9c8e" stroke-width="1.1" stroke-linejoin="round"/>
<path d="M71.1 318.2H77.9M74.5 314.8V321.6" stroke="#3a3a3a" stroke-width="1.9"/>
<path d="M236.8 423.7H243.6M240.2 420.3V427.1" stroke="#3a3a3a" stroke-width="1.9"/>
<path d="M301.3 427.6H308.1M304.7 424.2V431.0" stroke="#3a3a3a" stroke-width="1.9"/>
<path d="M320.1 423.7H326.9M323.5 420.3V427.1" stroke="#3a3a3a" stroke-width="1.9"/>
<path d="M531.7 294.5H538.5M535.1 291.1V297.9" stroke="#3a3a3a" stroke-width="1.9"/>
<path d="M605.0 256.3H611.8M608.4 252.9V259.7" stroke="#3a3a3a" stroke-width="1.9"/>
<path d="M678.6 274.1H685.4M682.0 270.7V277.5" stroke="#3a3a3a" stroke-width="1.9"/>
<path d="M67.39999999999999 262.1H77.5V279.3H81.8L72.2 296.5L62.9 279.3H67.39999999999999Z" fill="#22b14c" stroke="#22b14c" stroke-width="2.2" stroke-linejoin="round"/>
<path d="M530.1 233.6H539.3V249.9H544.4L534.5 268L524.8 249.9H530.1Z" fill="#22b14c" stroke="#22b14c" stroke-width="2.2" stroke-linejoin="round"/>
<path d="M677.6 228.0H688.5V247.2H694.6L682.9 267.6L671.7 247.2H677.6Z" fill="#22b14c" stroke="#22b14c" stroke-width="2.2" stroke-linejoin="round"/>
<path d="M237.6 442.4L252.2 456.9H245.4V472.59999999999997H230.29999999999998V456.9H223.5Z" fill="#000" stroke="#000" stroke-width="2.2" stroke-linejoin="round"/>
<path d="M323.3 435.1L334.6 451.09999999999997H329.7V470.7H317.20000000000005V451.09999999999997H312.1Z" fill="#000" stroke="#000" stroke-width="2.2" stroke-linejoin="round"/>
<path d="M611.8 275.3L623.6 295.79999999999995H617.9V314.4H606.0V295.79999999999995H600.1Z" fill="#000" stroke="#000" stroke-width="2.2" stroke-linejoin="round"/>
</g>
<circle cx="486.9" cy="602.1" r="7" fill="rgba(255,255,255,0.3)" stroke="rgba(150,150,150,0.5)" stroke-width="1"/>
<path d="M488.4 599.1L485.4 602.1L488.4 605.1" stroke="rgba(140,140,140,0.6)" stroke-width="1.1" fill="none"/>
<circle cx="505.3" cy="602.1" r="7" fill="rgba(255,255,255,0.3)" stroke="rgba(150,150,150,0.5)" stroke-width="1"/>
<path d="M502.3 602.1H508.3" stroke="rgba(140,140,140,0.6)" stroke-width="1.1" fill="none"/>
<circle cx="524.3" cy="602.1" r="7" fill="rgba(255,255,255,0.3)" stroke="rgba(150,150,150,0.5)" stroke-width="1"/>
<path d="M527.0999999999999 600.6A3.2 3.2 0 1 0 527.0999999999999 603.6M527.8 598.6V601.1H525.3" stroke="rgba(140,140,140,0.6)" stroke-width="1.1" fill="none"/>
<circle cx="542.6" cy="602.1" r="7" fill="rgba(255,255,255,0.3)" stroke="rgba(150,150,150,0.5)" stroke-width="1"/>
<path d="M539.6 602.1H545.6M542.6 599.1V605.1" stroke="rgba(140,140,140,0.6)" stroke-width="1.1" fill="none"/>
<circle cx="561.9" cy="602.1" r="7" fill="rgba(255,255,255,0.3)" stroke="rgba(150,150,150,0.5)" stroke-width="1"/>
<path d="M560.4 599.1L563.4 602.1L560.4 605.1" stroke="rgba(140,140,140,0.6)" stroke-width="1.1" fill="none"/>
<g><path d="M42.4 613.8A8.4 8.4 0 0 1 50 605.9" fill="none" stroke="#5fa8c6" stroke-width="1"/><path d="M45.2 613.8A5.6 5.6 0 0 1 50.3 608.5" fill="none" stroke="#e5533f" stroke-width="1.1"/><path d="M47.2 613.8A3.6 3.6 0 0 1 50.3 610.6" fill="none" stroke="#f4b63f" stroke-width="1.1"/><text x="51" y="608.7" font-size="3.7" font-weight="bold" fill="#111">cnyes</text><text x="52" y="613.7" font-size="4.9" font-weight="bold" fill="#333">鉅亨網</text></g>
<path d="M35.85 617.2H991.2" stroke="#8c8c8f" stroke-width="1.1"/>
<path d="M990.7 79.7V617.6" stroke="#8c8c8f" stroke-width="1.1"/>
<path d="M65.5 617.2V619.2" stroke="#888" stroke-width="1"/>
<text x="65.8" y="625.6" font-size="6" text-anchor="middle" fill="#444" >四月</text>
<path d="M148.5 617.2V619.2" stroke="#888" stroke-width="1"/>
<text x="148.4" y="625.6" font-size="6" text-anchor="middle" fill="#444" >六月</text>
<path d="M232.5 617.2V619.2" stroke="#888" stroke-width="1"/>
<text x="232.1" y="625.6" font-size="6" text-anchor="middle" fill="#444" >八月</text>
<path d="M305.5 617.2V619.2" stroke="#888" stroke-width="1"/>
<text x="305.2" y="625.6" font-size="6" text-anchor="middle" fill="#444" >十月</text>
<path d="M351.5 617.2V619.2" stroke="#888" stroke-width="1"/>
<text x="351.4" y="625.6" font-size="6" text-anchor="middle" fill="#444" >十一月</text>
<path d="M425.5 617.2V619.2" stroke="#888" stroke-width="1"/>
<text x="425.3" y="625.6" font-size="6" text-anchor="middle" fill="#444" font-weight="bold">2018</text>
<path d="M471.5 617.2V619.2" stroke="#888" stroke-width="1"/>
<text x="471.4" y="625.6" font-size="6" text-anchor="middle" fill="#444" >二月</text>
<path d="M544.5 617.2V619.2" stroke="#888" stroke-width="1"/>
<text x="544.7" y="625.6" font-size="6" text-anchor="middle" fill="#444" >四月</text>
<path d="M590.5 617.2V619.2" stroke="#888" stroke-width="1"/>
<text x="590.6" y="625.6" font-size="6" text-anchor="middle" fill="#444" >五月</text>
<path d="M664.5 617.2V619.2" stroke="#888" stroke-width="1"/>
<text x="664.2" y="625.6" font-size="6" text-anchor="middle" fill="#444" >七月</text>
<path d="M710.5 617.2V619.2" stroke="#888" stroke-width="1"/>
<text x="710.3" y="625.6" font-size="6" text-anchor="middle" fill="#444" >八月</text>
<path d="M784.5 617.2V619.2" stroke="#888" stroke-width="1"/>
<text x="784.1" y="625.6" font-size="6" text-anchor="middle" fill="#444" >十月</text>
<path d="M830.5 617.2V619.2" stroke="#888" stroke-width="1"/>
<text x="830.2" y="625.6" font-size="6" text-anchor="middle" fill="#444" >十一月</text>
<path d="M912.5 617.2V619.2" stroke="#888" stroke-width="1"/>
<text x="912.6" y="625.6" font-size="6" text-anchor="middle" fill="#444" font-weight="bold">2019</text>
<path d="M977.5 617.2V619.2" stroke="#888" stroke-width="1"/>
<text x="977.6" y="625.6" font-size="6" text-anchor="middle" fill="#444" >三月</text>
<path d="M991 96.5H993" stroke="#888" stroke-width="1"/>
<text x="994.6" y="99.6" font-size="6.5" fill="#5f5f5f">56.00</text>
<path d="M991 115.5H993" stroke="#888" stroke-width="1"/>
<text x="994.6" y="118.2" font-size="6.5" fill="#5f5f5f">55.50</text>
<path d="M991 134.5H993" stroke="#888" stroke-width="1"/>
<text x="994.6" y="136.9" font-size="6.5" fill="#5f5f5f">55.00</text>
<path d="M991 152.5H993" stroke="#888" stroke-width="1"/>
<text x="994.6" y="155.6" font-size="6.5" fill="#5f5f5f">54.50</text>
<path d="M991 171.5H993" stroke="#888" stroke-width="1"/>
<text x="994.6" y="174.2" font-size="6.5" fill="#5f5f5f">54.00</text>
<path d="M991 190.5H993" stroke="#888" stroke-width="1"/>
<text x="994.6" y="192.9" font-size="6.5" fill="#5f5f5f">53.50</text>
<path d="M991 208.5H993" stroke="#888" stroke-width="1"/>
<text x="994.6" y="211.5" font-size="6.5" fill="#5f5f5f">53.00</text>
<path d="M991 227.5H993" stroke="#888" stroke-width="1"/>
<text x="994.6" y="230.1" font-size="6.5" fill="#5f5f5f">52.50</text>
<path d="M991 246.5H993" stroke="#888" stroke-width="1"/>
<text x="994.6" y="248.8" font-size="6.5" fill="#5f5f5f">52.00</text>
<path d="M991 264.5H993" stroke="#888" stroke-width="1"/>
<text x="994.6" y="267.4" font-size="6.5" fill="#5f5f5f">51.50</text>
<path d="M991 283.5H993" stroke="#888" stroke-width="1"/>
<text x="994.6" y="286.1" font-size="6.5" fill="#5f5f5f">51.00</text>
<path d="M991 301.5H993" stroke="#888" stroke-width="1"/>
<text x="994.6" y="304.8" font-size="6.5" fill="#5f5f5f">50.50</text>
<path d="M991 320.5H993" stroke="#888" stroke-width="1"/>
<text x="994.6" y="323.4" font-size="6.5" fill="#5f5f5f">50.00</text>
<path d="M991 339.5H993" stroke="#888" stroke-width="1"/>
<text x="994.6" y="342.1" font-size="6.5" fill="#5f5f5f">49.50</text>
<path d="M991 357.5H993" stroke="#888" stroke-width="1"/>
<text x="994.6" y="360.7" font-size="6.5" fill="#5f5f5f">49.00</text>
<path d="M991 376.5H993" stroke="#888" stroke-width="1"/>
<text x="994.6" y="379.4" font-size="6.5" fill="#5f5f5f">48.50</text>
<path d="M991 395.5H993" stroke="#888" stroke-width="1"/>
<text x="994.6" y="398.0" font-size="6.5" fill="#5f5f5f">48.00</text>
<path d="M991 413.5H993" stroke="#888" stroke-width="1"/>
<text x="994.6" y="416.6" font-size="6.5" fill="#5f5f5f">47.50</text>
<path d="M991 432.5H993" stroke="#888" stroke-width="1"/>
<text x="994.6" y="435.3" font-size="6.5" fill="#5f5f5f">47.00</text>
<path d="M991 451.5H993" stroke="#888" stroke-width="1"/>
<text x="994.6" y="453.9" font-size="6.5" fill="#5f5f5f">46.50</text>
<path d="M991 469.5H993" stroke="#888" stroke-width="1"/>
<text x="994.6" y="472.6" font-size="6.5" fill="#5f5f5f">46.00</text>
<path d="M991 488.5H993" stroke="#888" stroke-width="1"/>
<text x="994.6" y="491.2" font-size="6.5" fill="#5f5f5f">45.50</text>
<path d="M991 507.5H993" stroke="#888" stroke-width="1"/>
<text x="994.6" y="509.9" font-size="6.5" fill="#5f5f5f">45.00</text>
<path d="M991 525.5H993" stroke="#888" stroke-width="1"/>
<text x="994.6" y="528.5" font-size="6.5" fill="#5f5f5f">44.50</text>
<path d="M991 544.5H993" stroke="#888" stroke-width="1"/>
<text x="994.6" y="547.2" font-size="6.5" fill="#5f5f5f">44.00</text>
<path d="M991 563.5H993" stroke="#888" stroke-width="1"/>
<text x="994.6" y="565.8" font-size="6.5" fill="#5f5f5f">43.50</text>
<path d="M991 581.5H993" stroke="#888" stroke-width="1"/>
<text x="994.6" y="584.5" font-size="6.5" fill="#5f5f5f">43.00</text>
<path d="M991 600.5H993" stroke="#888" stroke-width="1"/>
<text x="994.6" y="603.1" font-size="6.5" fill="#5f5f5f">42.50</text>
<rect x="990.2" y="503" width="21.4" height="8.8" fill="#d75442"/>
<path d="M990.4 507.5H991.8" stroke="#fff" stroke-width="0.9"/>
<text x="994.2" y="509.8" font-size="6.3" fill="#fff" font-weight="bold">45.00</text>
</svg>
<!-- legend -->
<div class="lg" style="top:85.8px;color:#454545"><span style="position:absolute;left:38.8px;top:2.2px;width:6.6px;height:6.6px;border:0.9px solid #8a8a8a;box-sizing:border-box;border-radius:0.8px"><i style="position:absolute;left:1px;top:1.95px;width:2.8px;height:0.9px;background:#8a8a8a"></i></span><span style="position:absolute;left:0;top:0;width:0;height:0;overflow:hidden">⊟</span><span class="v" style="left:49px">富邦金, W, TSE</span><span class="dd" style="left:116.3px">▼</span><span class="ic" style="left:126.2px"></span><span class="ic" style="left:135.6px"></span><span class="v" style="left:147px"><span style="color:#1f1f1f;font-weight:350">開盤</span> <span style="color:#d75442">44.65</span> <span style="color:#1f1f1f;font-weight:350">最高</span> <span style="color:#d75442">45.15</span> <span style="color:#1f1f1f;font-weight:350">最低</span> <span style="color:#d75442">44.55</span> <span style="color:#1f1f1f;font-weight:350">收盤</span> <span style="color:#d75442">45.00</span></span></div>
<div class="lg" style="top:96.8px;color:#454545"><span class="nm">MA Cross (5, 20)</span><span class="dd" style="left:107.4px;color:#999">▼</span><span class="ic" style="left:117px"></span><span class="ic" style="left:125.9px"></span><span class="ic" style="left:135.2px"></span><span class="v" style="left:148.2px;color:#ee9c8e">44.4200</span><span class="v" style="left:182.3px;color:#f45a55">47.5725</span><span class="v" style="left:217px;color:#333">n/a</span></div>
<div class="lg" style="top:108px;color:#454545"><span class="nm">Volume (false, 20)</span><span class="dd" style="left:111.3px;color:#999">▼</span><span class="ic" style="left:121.4px"></span><span class="ic" style="left:130.2px"></span><span class="ic" style="left:139.4px"></span><span class="v" style="left:152.7px;color:#d75442">55.475K</span><span class="v" style="left:188.2px;color:#333">n/a</span></div>
<div class="lg" style="top:119.3px;color:#454545"><span class="nm">MA (60, close, 0)</span><span class="dd" style="left:107.4px;color:#999">▼</span><span class="ic" style="left:117px"></span><span class="ic" style="left:125.9px"></span><span class="ic" style="left:135.2px"></span><span class="v" style="left:147.8px;color:#2a2aee">50.0975</span></div>
<div class="lg" style="top:131.2px;color:#d2d2d2"><span class="nm">BB (20, 2)</span><span class="dd" style="left:80.10000000000001px;color:#aaa">▼</span><span class="ib" style="left:90.6px"><i></i></span><span class="ic" style="left:100px"></span><span class="ic" style="left:109.2px"></span><span class="v" style="left:120.8px;color:#d2d2d2">47.5725 52.4257 42.7193</span></div>
<div class="lg" style="top:143px;color:#d2d2d2"><span class="nm">MA (120, close, 0)</span><span class="dd" style="left:112.3px;color:#aaa">▼</span><span class="ib" style="left:122.2px"><i></i></span><span class="ic" style="left:131.2px"></span><span class="ic" style="left:140.4px"></span><span class="v" style="left:153px;color:#d2d2d2">49.3700</span></div>
<div class="lg" style="top:154.4px;color:#454545"><span class="nm">MA (240, close, 0)</span><span class="dd" style="left:112.3px;color:#999">▼</span><span class="ic" style="left:121.8px"></span><span class="ic" style="left:130.8px"></span><span class="ic" style="left:140.4px"></span><span class="v" style="left:153px;color:#555">48.9648</span></div>
<div class="abs" style="left:945px;top:86.4px;font-size:8.7px;line-height:11px;color:#a349a4"><span style="display:inline-block;width:4.4px;height:4.4px;border-radius:50%;background:#a349a4;vertical-align:0.6px;margin-right:2.6px"></span>盤後數據</div>
<!-- bottom bar -->
<div class="bbar"></div>
<div class="bt" style="left:43.4px;font-weight:bold;color:#7c7c7c">1日</div>
<div class="bt" style="left:62px;color:#c9ccd1">|</div>
<div class="bt" style="left:70.5px;font-weight:bold;color:#7c7c7c">6月</div>
<div class="bt" style="left:91px;color:#c9ccd1">|</div>
<div class="bt" style="left:98.5px;color:#8a8a8a">3y</div>
<div class="bt" style="left:115.2px;color:#c9ccd1">|</div>
<div class="bt" style="left:123.5px;color:#8a8a8a">5y</div>
<div class="bt" style="left:825px;color:#8a8a8a"><b style="color:#7a7a7a">09:44:24</b> (UTC+8)</div>
<div class="bt" style="left:903.2px;color:#c9ccd1">|</div>
<div class="bt" style="left:911.3px;color:#6e6e6e">%</div>
<div class="bt" style="left:924.5px;color:#c9ccd1">|</div>
<div class="bt" style="left:933.5px;font-weight:500;color:#707070">對數</div>
<div class="bt" style="left:957px;color:#c9ccd1">|</div>
<div class="bt" style="left:965.3px;font-weight:bold;color:#3bb3e4">自動</div>
<div class="bt" style="left:989.3px;color:#c9ccd1">|</div>
<div class="abs" style="left:3.5px;top:645.4px;font-size:8.5px;line-height:11px;color:#333">畫面中 Technical Key 操做</div>
<svg width="1024" height="648" viewBox="0 0 1024 648" style="position:absolute;left:0;top:0;pointer-events:none"><circle cx="1001.5" cy="634.2" r="2.1" fill="none" stroke="#707070" stroke-width="0.9"/><path d="M1003.80 634.20L1005.00 634.20 M1003.13 635.83L1003.97 636.67 M1001.50 636.50L1001.50 637.70 M999.87 635.83L999.03 636.67 M999.20 634.20L998.00 634.20 M999.87 632.57L999.03 631.73 M1001.50 631.90L1001.50 630.70 M1003.13 632.57L1003.97 631.73" stroke="#707070" stroke-width="1.2"/></svg>
<!-- red annotation rectangle -->
<div class="abs" style="left:94px;top:50px;width:48px;height:33.6px;border:3.5px solid #ed1c24;box-sizing:border-box"></div>
</body></html>
